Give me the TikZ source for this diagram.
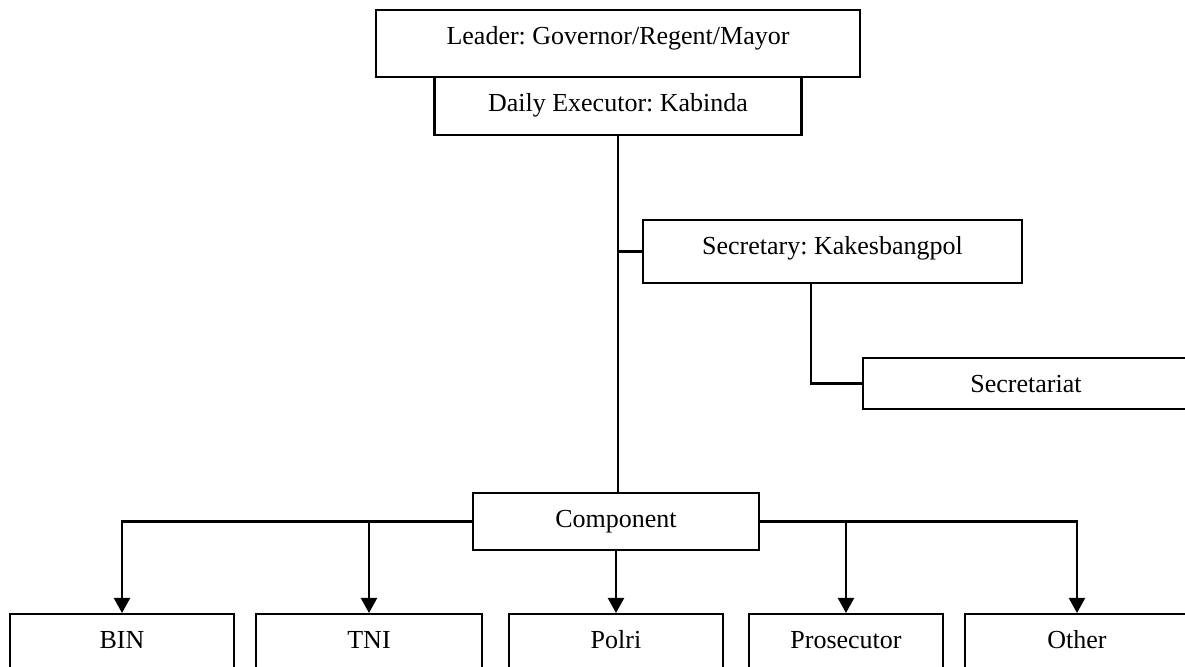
\documentclass[tikz,border=0pt]{standalone}
\usepackage{fontspec}
\setmainfont{Liberation Serif}
\usetikzlibrary{arrows.meta}
\frenchspacing

\tikzset{
    box/.style={draw, line width=1.1pt, anchor=north, inner sep=0pt,
        text height=17pt, minimum width=#1, font=\fontsize{13pt}{15pt}\selectfont},
    link/.style={line width=1.1pt},
    arr/.style={line width=1.1pt, -{Triangle[width=8pt,length=7.5pt]}}
}

\begin{document}
\begin{tikzpicture}[x=0.5pt, y=-0.5pt]
        \useasboundingbox (0,0) rectangle (1185,667);

        % Pimpinan
        \node[box=242pt, text depth=16.5pt] (leader) at (618,9) {Leader: Governor/Regent/Mayor};
        \node[box=183.5pt, text depth=12pt] (daily) at (618,76) {Daily Executor: Kabinda};

        % Sekretaris
        \node[box=189.5pt, text depth=14.5pt] (sec) at (832.5,219) {Secretary: Kakesbangpol};
        \node[box=163pt, text depth=8.5pt] (sect) at (1026,357) {Secretariat};

        % Komponen
        \node[box=143pt, text depth=11.5pt] (comp) at (616,492) {Component};
        \foreach \x/\w/\name/\val in {
            122/112pt/bin/BIN,
            369/113pt/tni/TNI,
            616/107pt/polri/Polri,
            846/97pt/pros/Prosecutor,
            1077/112pt/other/Other
        } {
            \node[box=\w, text depth=22pt] (\name) at (\x,613) {\val};
        }

        % Garis
        \draw[link] (daily.south) -- (daily.south |- comp.north);
        \draw[link] (sec.west) -- (sec.west -| daily.south);
        \draw[link] ([xshift=-10.75pt]sec.south) |- (sect.west);
        \draw[arr] (comp.west) -| (bin.north);
        \draw[arr] (comp.east) -| (other.north);
        \draw[arr] (comp.south) -- (polri.north);
        \foreach \name in {tni, pros} {
            \draw[arr] (\name.north |- comp.west) -- (\name.north);
        }
\end{tikzpicture}
\end{document}
